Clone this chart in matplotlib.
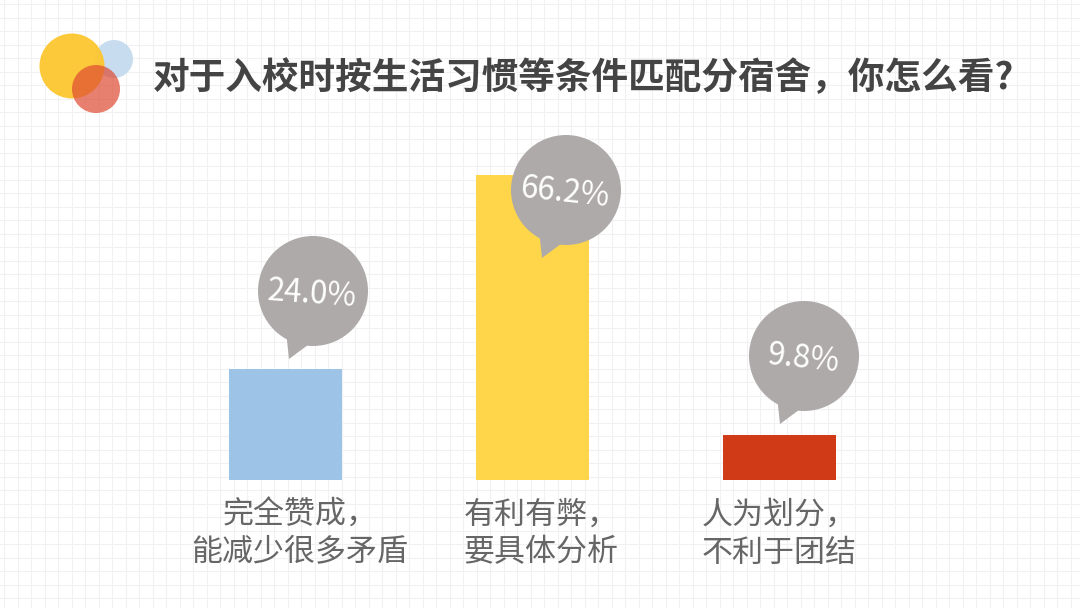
import numpy as np
import matplotlib
matplotlib.use("Agg")
import matplotlib.pyplot as plt
from matplotlib.patches import Circle, Polygon

plt.rcParams['font.family'] = ['Noto Sans CJK SC', 'DejaVu Sans']

# data
categories = ["完全赞成，\n能减少很多矛盾", "有利有弊，\n要具体分析", "人为划分，\n不利于团结"]
values = [24.0, 66.2, 9.8]
labels = ["24.0%", "66.2%", "9.8%"]
colors = ["#9dc3e6", "#ffd54a", "#d03a17"]
title = "对于入校时按生活习惯等条件匹配分宿舍，你怎么看?"

W, H = 1080, 608
fig = plt.figure(figsize=(W / 100, H / 100), dpi=100, facecolor="white")

# background layer in pixel coordinates
bg = fig.add_axes([0, 0, 1, 1])
bg.set_xlim(0, W)
bg.set_ylim(H, 0)
bg.axis("off")
for x in np.arange(4, W, 13.5):
    bg.axvline(x, color="#f1f1f3", lw=0.8)
for y in np.arange(4, H, 13.5):
    bg.axhline(y, color="#f1f1f3", lw=0.8)

# bars
ax = fig.add_axes([162 / W, (H - 480) / H, 741 / W, 305 / H])
ax.patch.set_alpha(0)
x = np.arange(len(values))
ax.bar(x, values, width=0.46, color=colors)
ax.set_xlim(-0.5, 2.5)
ax.set_ylim(0, 66.2)
ax.axis("off")

# overlay for bubbles, logo, text
top = fig.add_axes([0, 0, 1, 1])
top.set_xlim(0, W)
top.set_ylim(H, 0)
top.axis("off")
top.patch.set_alpha(0)

# logo
top.add_patch(Circle((114, 59), 19, color="#c5dbef", alpha=0.95, lw=0))
top.add_patch(Circle((72, 66), 32.5, color="#fcc62f", alpha=0.95, lw=0))
top.add_patch(Circle((96, 89), 24, color="#df4a33", alpha=0.7, lw=0))

# speech bubbles
for cx, cy, lab, rot in [(313, 291, labels[0], -4), (566, 190, labels[1], -6), (804, 356, labels[2], -6)]:
    top.add_patch(Circle((cx, cy), 55, color="#aeaaaa", lw=0))
    top.add_patch(Polygon([(cx - 27, cy + 40), (cx - 24, cy + 68), (cx + 3, cy + 48)], color="#aeaaaa", lw=0))
    top.text(cx - 1, cy + 3, lab, color="white", fontsize=22.5, ha="center", va="center", rotation=rot)

top.text(153, 79, title, fontsize=26.4, color="#444444", ha="left", va="center", fontweight="bold")

for xc, cat in zip([300, 541, 779], categories):
    top.text(xc, 534, cat, fontsize=22.3, color="#666666", ha="center", va="center", linespacing=1.3, fontweight="medium")

fig.savefig("out.png", dpi=100)
